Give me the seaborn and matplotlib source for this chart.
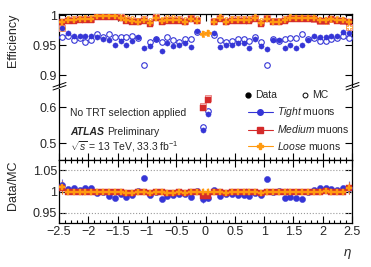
import numpy as np
import pandas as pd
import matplotlib
matplotlib.use('Agg')
import matplotlib.pyplot as plt
from matplotlib.lines import Line2D
from matplotlib.ticker import MultipleLocator, FixedLocator
import seaborn as sns

# eta bin centres (bins of 0.1 from -2.5 to 2.5)
eta = np.round(np.linspace(-2.45, 2.45, 50), 2)

# efficiencies
tight_data = [0.979, 0.971, 0.965, 0.965, 0.965, 0.965, 0.964, 0.961, 0.958, 0.950,
              0.957, 0.950, 0.957, 0.964, 0.946, 0.949, 0.960, 0.940, 0.953, 0.949,
              0.950, 0.954, 0.947, 0.974, 0.535, 0.580, 0.971, 0.947, 0.950, 0.951,
              0.953, 0.953, 0.946, 0.960, 0.949, 0.944, 0.959, 0.958, 0.946, 0.950,
              0.946, 0.950, 0.959, 0.965, 0.964, 0.964, 0.965, 0.965, 0.972, 0.971]
tight_mc = [0.964, 0.966, 0.958, 0.962, 0.956, 0.958, 0.968, 0.963, 0.968, 0.964,
            0.963, 0.963, 0.965, 0.962, 0.917, 0.956, 0.961, 0.956, 0.963, 0.958,
            0.956, 0.960, 0.960, 0.972, 0.545, 0.589, 0.967, 0.958, 0.956, 0.957,
            0.960, 0.961, 0.957, 0.964, 0.956, 0.917, 0.960, 0.957, 0.960, 0.962,
            0.962, 0.968, 0.960, 0.962, 0.957, 0.957, 0.960, 0.962, 0.965, 0.962]
medium_data = [0.988, 0.991, 0.991, 0.992, 0.992, 0.992, 0.997, 0.997, 0.997, 0.997,
               0.995, 0.991, 0.989, 0.988, 0.991, 0.986, 0.995, 0.989, 0.991, 0.991,
               0.991, 0.988, 0.993, 0.990, 0.597, 0.620, 0.988, 0.994, 0.988, 0.991,
               0.991, 0.991, 0.991, 0.994, 0.986, 0.993, 0.988, 0.988, 0.991, 0.994,
               0.994, 0.994, 0.994, 0.994, 0.991, 0.991, 0.993, 0.991, 0.991, 0.988]
medium_mc = [0.979, 0.992, 0.993, 0.993, 0.994, 0.994, 0.998, 0.998, 0.999, 0.999,
             0.997, 0.994, 0.992, 0.990, 0.993, 0.989, 0.997, 0.991, 0.994, 0.994,
             0.993, 0.991, 0.995, 0.992, 0.603, 0.626, 0.990, 0.996, 0.991, 0.993,
             0.993, 0.993, 0.993, 0.996, 0.989, 0.995, 0.990, 0.990, 0.993, 0.996,
             0.995, 0.995, 0.995, 0.994, 0.991, 0.990, 0.993, 0.992, 0.991, 0.980]
loose_data = [0.989, 0.992, 0.992, 0.993, 0.993, 0.993, 0.998, 0.998, 0.998, 0.998,
              0.996, 0.992, 0.990, 0.989, 0.992, 0.987, 0.996, 0.990, 0.992, 0.992,
              0.992, 0.989, 0.994, 0.991, 0.969, 0.971, 0.989, 0.995, 0.989, 0.992,
              0.992, 0.992, 0.992, 0.995, 0.987, 0.994, 0.989, 0.989, 0.992, 0.995,
              0.995, 0.995, 0.995, 0.995, 0.992, 0.992, 0.994, 0.992, 0.992, 0.989]
loose_mc = [0.979, 0.993, 0.994, 0.994, 0.995, 0.995, 0.999, 0.999, 0.999, 0.999,
            0.998, 0.995, 0.993, 0.991, 0.994, 0.990, 0.998, 0.992, 0.995, 0.995,
            0.994, 0.992, 0.996, 0.993, 0.969, 0.971, 0.991, 0.997, 0.992, 0.994,
            0.994, 0.994, 0.994, 0.997, 0.990, 0.996, 0.991, 0.991, 0.994, 0.997,
            0.996, 0.996, 0.996, 0.995, 0.992, 0.991, 0.994, 0.993, 0.992, 0.981]
# uncertainty on the ratio
ratio_err = [0.015, 0.006, 0.004, 0.003, 0.003, 0.003, 0.002, 0.002, 0.002, 0.002,
             0.002, 0.002, 0.002, 0.002, 0.002, 0.002, 0.002, 0.002, 0.002, 0.002,
             0.002, 0.002, 0.002, 0.003, 0.008, 0.008, 0.003, 0.002, 0.002, 0.002,
             0.002, 0.002, 0.002, 0.002, 0.002, 0.002, 0.002, 0.002, 0.002, 0.002,
             0.002, 0.002, 0.002, 0.003, 0.003, 0.003, 0.003, 0.004, 0.006, 0.015]

wps = ['Tight', 'Medium', 'Loose']
colors = {'Tight': '#3535d6', 'Medium': '#d42a2a', 'Loose': '#ff9a10'}
markers = {'Tight': 'o', 'Medium': 's', 'Loose': 'P'}
values = {'Tight': (tight_data, tight_mc), 'Medium': (medium_data, medium_mc),
          'Loose': (loose_data, loose_mc)}

sns.set_style('ticks')
plt.rcParams['font.family'] = ['Liberation Sans', 'DejaVu Sans']
plt.rcParams['mathtext.fontset'] = 'custom'
plt.rcParams['mathtext.rm'] = 'Liberation Sans'
plt.rcParams['mathtext.it'] = 'Liberation Sans:italic'
plt.rcParams['mathtext.bf'] = 'Liberation Sans:bold'

W, H = 371, 267
fig = plt.figure(figsize=(W / 100, H / 100), dpi=100)


def px_axes(top, bottom, left=59, right=352):
    '''make axes from pixel edges'''
    return fig.add_axes([left / W, 1 - bottom / H, (right - left) / W, (bottom - top) / H])


ax_top = px_axes(14, 86)
ax_mid = px_axes(89, 160)
ax_rat = px_axes(160, 223)


def style_axis(ax):
    #ATLAS style ticks on all sides, pointing in
    ax.set_xlim(-2.5, 2.5)
    ax.xaxis.set_major_locator(MultipleLocator(0.5))
    ax.xaxis.set_minor_locator(MultipleLocator(0.1))
    ax.tick_params(which='both', direction='in', top=True, right=True,
                   labelsize=9, pad=1.5, width=0.8, color='black')
    ax.tick_params(which='major', length=5)
    ax.tick_params(which='minor', length=2.5)
    for sp in ax.spines.values():
        sp.set_linewidth(0.9)
        sp.set_color('black')


for ax in [ax_top, ax_mid, ax_rat]:
    style_axis(ax)

# efficiency panels
for ax in [ax_top, ax_mid]:
    for wp in wps:
        d, m = values[wp]
        c = colors[wp]
        df = pd.DataFrame({'eta': eta, 'data': d, 'mc': m})
        if wp == 'Medium':
            sns.scatterplot(data=df, x='eta', y='mc', marker='s', s=22, facecolor='#f9d0d0',
                            edgecolor='#ee8c8c', linewidth=0.7, ax=ax, legend=False, zorder=3)
        elif wp == 'Tight':
            sns.scatterplot(data=df, x='eta', y='mc', marker='o', s=16, facecolor='white',
                            edgecolor=c, linewidth=0.8, ax=ax, legend=False, zorder=3)
        else:
            sns.scatterplot(data=df, x='eta', y='mc', marker='P', s=16, facecolor='white',
                            edgecolor=c, linewidth=0.5, ax=ax, legend=False, zorder=4)
        sns.scatterplot(data=df, x='eta', y='data', marker=markers[wp],
                        s=16 if wp == 'Loose' else 14, color=c, edgecolor=c,
                        linewidth=0.3, ax=ax, legend=False, zorder=5)

ax_top.set_ylim(0.882, 1.002)
ax_top.yaxis.set_major_locator(FixedLocator([0.9, 0.95, 1.0]))
ax_top.set_yticklabels(['0.9', '0.95', '1'])
ax_top.spines['bottom'].set_visible(False)
ax_top.tick_params(axis='x', which='both', bottom=False, labelbottom=False)
ax_top.set_xlabel('')
ax_top.set_ylabel('Efficiency', fontsize=9, loc='top')
ax_top.yaxis.set_label_coords(-0.137, 1.0)

ax_mid.set_ylim(0.453, 0.65)
ax_mid.yaxis.set_major_locator(FixedLocator([0.5, 0.6]))
ax_mid.set_yticklabels(['0.5', '0.6'])
ax_mid.spines['top'].set_visible(False)
ax_mid.tick_params(axis='x', which='both', top=False, labelbottom=False)
ax_mid.set_xlabel('')
ax_mid.set_ylabel('')

# ratio panel
for y in [0.95, 1.0, 1.05]:
    ax_rat.axhline(y, color='#999999', ls=':', lw=0.8, zorder=1)
for wp in wps:
    d, m = values[wp]
    r = np.array(d) / np.array(m)
    c = colors[wp]
    ax_rat.errorbar(eta, r, yerr=ratio_err, fmt='none', ecolor=c, elinewidth=0.8,
                    alpha=0.7, zorder=2)
    sns.scatterplot(x=eta, y=r, marker=markers[wp], s=20 if wp != 'Medium' else 16,
                    color=c, edgecolor=c, linewidth=0.3, ax=ax_rat, legend=False, zorder=5)
ax_rat.set_ylim(0.925, 1.075)
ax_rat.yaxis.set_major_locator(FixedLocator([0.95, 1.0, 1.05]))
ax_rat.set_yticklabels(['0.95', '1', '1.05'])
ax_rat.set_xticks([-2.5, -2, -1.5, -1, -0.5, 0, 0.5, 1, 1.5, 2, 2.5])
ax_rat.set_xticklabels(['\u22122.5', '\u22122', '\u22121.5', '\u22121', '\u22120.5', '0',
                        '0.5', '1', '1.5', '2', '2.5'])
ax_rat.tick_params(axis='x', pad=2.5)
ax_rat.set_ylabel('Data/MC', fontsize=9, loc='top')
ax_rat.yaxis.set_label_coords(-0.137, 1.0)
ax_rat.set_xlabel(r'$\eta$', fontsize=9.5, loc='right', labelpad=6)

# break marks on the y axis
for x0, x1 in [(53, 66), (346, 359)]:
    for dy in [0, 3]:
        fig.add_artist(Line2D([x0 / W, x1 / W], [1 - (90 - dy) / H, 1 - (85.5 - dy) / H],
                              color='black', lw=0.7))

# texts
ax_mid.text(0.038, 0.655, 'No TRT selection applied', transform=ax_mid.transAxes,
            fontsize=7.5, va='center')
ax_mid.text(0.038, 0.40, 'ATLAS', transform=ax_mid.transAxes, fontsize=7.5,
            fontweight='bold', style='italic', va='center')
ax_mid.text(0.165, 0.40, 'Preliminary', transform=ax_mid.transAxes, fontsize=7.5,
            va='center')
ax_mid.text(0.038, 0.19, r'$\sqrt{s}$ = 13 TeV, 33.3 fb$^{-1}$', transform=ax_mid.transAxes,
            fontsize=7.5, va='center')

# legends
h_dm = [Line2D([], [], ls='', marker='o', color='black', ms=3.5),
        Line2D([], [], ls='', marker='o', mfc='white', mec='black', ms=3.5, mew=0.7)]
leg1 = ax_mid.legend(h_dm, ['Data', 'MC'], ncol=2, loc='upper left',
                     bbox_to_anchor=(0.63, 0.98), frameon=False, fontsize=7.5,
                     handlelength=0.8, handletextpad=0.3, columnspacing=2.3,
                     borderpad=0, borderaxespad=0)
ax_mid.add_artist(leg1)
h_wp = [Line2D([], [], color=colors[wp], marker=markers[wp], ms=4, lw=0.8) for wp in wps]
lab_wp = [r'$\mathit{Tight}$ muons', r'$\mathit{Medium}$ muons', r'$\mathit{Loose}$ muons']
ax_mid.legend(h_wp, lab_wp, loc='upper left', bbox_to_anchor=(0.645, 0.77), frameon=False,
              fontsize=7.5, handlelength=2.4, handletextpad=0.4, labelspacing=0.4,
              borderpad=0, borderaxespad=0)

fig.savefig('out.png', dpi=100)
